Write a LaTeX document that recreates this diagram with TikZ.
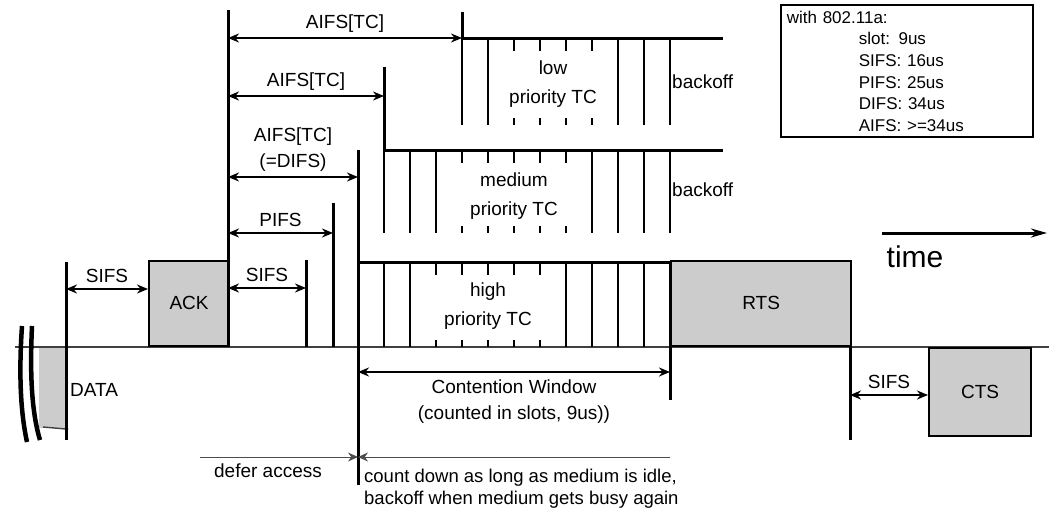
\documentclass[tikz,border=0pt]{standalone}
\usepackage{fontspec}
\setmainfont{Liberation Sans}
\usetikzlibrary{arrows.meta,positioning}
\begin{document}
\begin{tikzpicture}[x=1pt,y=-1pt,
    txt/.style={font=\fontsize{19}{26}\selectfont,inner sep=0pt},
    tc/.style={font=\fontsize{19}{29}\selectfont,inner sep=0pt,align=center},
    note/.style={font=\fontsize{17}{21.6}\selectfont},
    pkt/.style={draw,line width=2.2pt,fill=black!20,inner sep=0pt,font=\fontsize{19}{21}\selectfont},
    bar/.style={line width=3pt},
    slot/.style={line width=2.6pt},
    busline/.style={line width=1.4pt,black!75},
    dim/.style={line width=2pt,{Stealth[length=11pt,width=9pt]}-{Stealth[length=11pt,width=9pt]}},
    half/.style={line width=1pt,black!70,-{Stealth[length=10pt,width=9pt]}}]
  \useasboundingbox (0,0) rectangle (1049,517);
  \draw[busline] (15,347) -- (1049,347);
  \foreach \t/\b/\s/\e/\full/\tick in {38/125/4/723/{4,5,10,11,12}/{6,7,8,9},
      150/233/1/723/{1,2,3,9,10,11,12}/{4,5,6,7,8},
      262/347/0/670/{0,1,2,8,9,10,11,12}/{3,4,5,6,7}}{
    \draw[bar] ({358+26*\s},\t) -- (\e,\t);
    \foreach \k in \full
      \draw[slot] ({358+26*\k},\t) -- ({358+26*\k},\b);
    \foreach \k in \tick{
      \draw[slot] ({358+26*\k},\t) -- ({358+26*\k},\t+13);
      \draw[slot] ({358+26*\k},\b-7) -- ({358+26*\k},\b);
    }
  }
  \node[pkt,draw=none,anchor=north west,minimum width=28pt,minimum height=80pt] (data) at (38,347) {};
  \draw[busline] (43,427) -- (data.south east);
  \node[pkt,anchor=south west,minimum width=80pt,minimum height=85pt] (ack) at (148,347) {ACK};
  \node[pkt,anchor=south west,minimum width=180pt,minimum height=85pt] (rts) at (670,347) {RTS};
  \node[pkt,anchor=north west,minimum width=102pt,minimum height=88pt] (cts) at (928,347) {CTS};
  \draw[line width=4.5pt] (22,326) .. controls (19,370) and (20,410) .. (27,442);
  \draw[line width=4.5pt] (32,326) .. controls (30,370) and (31,410) .. (40,440);
  \foreach \x/\ya/\yb in {66/262/440,228/10/347,306/260/347,333/203/347,358/150/485,
      384/67/150,462/12/38,670/347/400,850/347/440}
    \draw[bar] (\x,\ya) -- (\x,\yb);
  \foreach \n/\xa/\xb/\y/\lbl in {sifsA/66/148/289/SIFS,aifsA/228/462/38/{AIFS[TC]},
      aifsB/228/384/96/{AIFS[TC]},aifsC/228/358/177/{AIFS[TC]\\(=DIFS)},
      pifs/228/333/233/PIFS,sifsB/228/306/288/SIFS,sifsC/850/928/395/SIFS}{
    \coordinate (\n-l) at (\xa,\y);
    \coordinate (\n-r) at (\xb,\y);
    \draw[dim] (\n-l) -- node[txt,above=5pt,align=center] (\n-t) {\lbl} (\n-r);
  }
  \coordinate (cw-l) at (358,372);
  \coordinate (cw-r) at (670,372);
  \draw[dim] (cw-l) -- node[txt,below=7pt,align=center] (cw-t) {Contention Window\\(counted in slots, 9us))} (cw-r);
  \coordinate (defer-l) at (200,457);
  \coordinate (cnt) at (358,457);
  \coordinate (defer-r) at (670,457);
  \draw[half] (defer-l) -- (cnt);
  \draw[half] (defer-r) -- (cnt);
  \node[txt,anchor=north] (defer) at (268,464) {defer access};
  \node[txt,font=\fontsize{18.5}{22}\selectfont,anchor=north west,align=left] (count) at (364,469)
    {count down as long as medium is idle,\\backoff when medium gets busy again};
  \node[txt,anchor=west] (datatxt) at (70,390) {DATA};
  \node[txt,anchor=west] (boffL) at (672,82) {backoff};
  \node[txt,anchor=west] (boffM) at (672,190) {backoff};
  \node[tc] (low) at (553,84) {low\\priority TC};
  \node[tc] (med) at (514,196) {medium\\priority TC};
  \node[tc] (high) at (488,306) {high\\priority TC};
  \node[font=\fontsize{30}{30}\selectfont,inner sep=0pt] (time) at (915,257) {time};
  \coordinate (time-a) at (882,233);
  \coordinate (time-b) at (1047,233);
  \draw[line width=3pt,-{Stealth[length=16pt,width=9pt]}] (time-a) -- (time-b);
  \node[draw,line width=1.8pt,anchor=north west,inner sep=6pt,text width=240pt,align=left,note] (spec) at (780,4)
    {with 802.11a:\\\hspace*{72pt}slot: 9us\\\hspace*{72pt}SIFS: 16us\\\hspace*{72pt}PIFS: 25us\\
     \hspace*{72pt}DIFS: 34us\\\hspace*{72pt}AIFS: >=34us};
\end{tikzpicture}
\end{document}
